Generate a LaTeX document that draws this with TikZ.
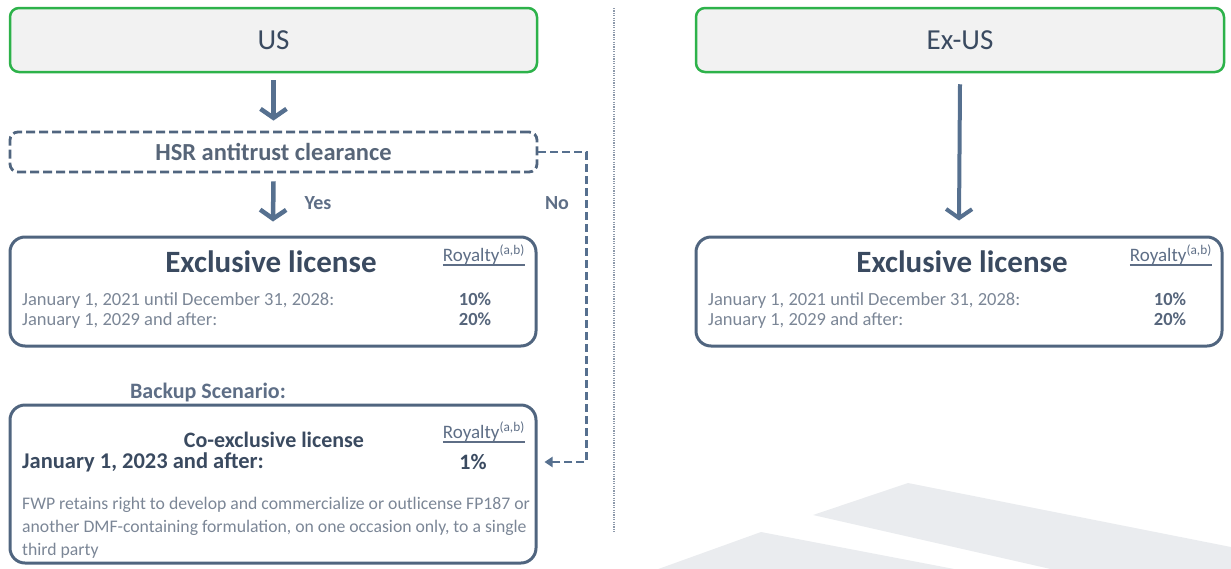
\documentclass[tikz,border=0pt]{standalone}
\usepackage{fontspec}
\setmainfont{Carlito}
\usetikzlibrary{arrows.meta,calc}
\definecolor{grn}{HTML}{2DB24A}
\definecolor{boxfill}{HTML}{F2F2F2}
\definecolor{bord}{HTML}{50657F}
\definecolor{arr}{HTML}{56708F}
\definecolor{ttl}{HTML}{3A4A60}
\definecolor{rowc}{HTML}{7B8696}
\definecolor{pct}{HTML}{56657B}
\definecolor{roy}{HTML}{5E6E86}
\definecolor{bgshape}{HTML}{EAECEF}
\definecolor{sepc}{HTML}{8D99AA}
\newcommand{\fsz}[2]{\fontsize{#1}{#2}\selectfont}
\begin{document}
\begin{tikzpicture}[x=1pt,y=-1pt,
  greenbox/.style={draw=grn, line width=2.5pt, fill=boxfill, rounded corners=9pt,
    minimum height=64pt, inner sep=0pt, font=\fsz{29}{34}, text=ttl},
  hsrbox/.style={draw=bord, line width=2.8pt, dash pattern=on 9pt off 4pt,
    rounded corners=8pt, minimum width=527pt, minimum height=40pt, inner sep=0pt,
    font=\bfseries\fsz{24.5}{28}, text=ttl!85!white},
  licbox/.style={draw=bord, line width=3pt, rounded corners=15pt,
    minimum width=526pt, minimum height=109pt, inner sep=0pt},
  bigarrow/.style={draw=arr, line width=4.5pt, -{Straight Barb[length=9pt,width=26pt]}},
  noline/.style={draw=arr, line width=2.8pt, dash pattern=on 8pt off 4pt,
    -{Triangle[length=8pt,width=10pt]}},
  sepline/.style={draw=sepc, line width=1.8pt, dash pattern=on 1.2pt off 1.2pt},
  ttltext/.style={font=\bfseries\fsz{31}{36}, text=ttl, inner sep=0pt},
  roytext/.style={font=\fsz{19}{22}, text=roy, inner sep=0pt, anchor=base east},
  rowtext/.style={font=\fsz{18.5}{22}, text=rowc, inner sep=0pt, anchor=base west},
  pcttext/.style={font=\bfseries\fsz{18.5}{22}, text=pct, inner sep=0pt, anchor=base},
  lbltext/.style={font=\bfseries\fsz{20}{24}, text=roy, inner sep=0pt},
  subtext/.style={font=\bfseries\fsz{22}{26}, text=ttl, inner sep=0pt, anchor=base},
  partext/.style={font=\fsz{17.7}{21}, text=rowc, inner sep=0pt, anchor=base west}
]
\useasboundingbox (0,0) rectangle (1231,568);
% background shapes
\begin{scope}
\clip (0,0) rectangle (1231,568);
\fill[bgshape] (813,515) -- (908,483) -- (1231,547) -- (1231,610) -- cycle;
\fill[bgshape] (600,590) -- (761,532) -- (1231,622) -- (1231,640) -- cycle;
\end{scope}
% separator
\coordinate (septop) at (614,8);
\coordinate (sepbot) at (614,532);
\draw[sepline] (septop) -- (sepbot);
% top boxes
\node[greenbox, minimum width=527pt] (us) at (273.5,40) {US};
\node[greenbox, minimum width=528pt] (exus) at (960,40) {Ex-US};
% HSR
\node[hsrbox] (hsr) at (273.5,152) {HSR antitrust clearance};
% license boxes
\node[licbox] (exL) at (273,291.5) {};
\node[licbox] (exR) at (959,291.5) {};
\node[licbox, minimum height=158pt] (coex) at (273,484) {};
% arrows
\draw[bigarrow] ([yshift=-7pt]us.south) -- ([yshift=10pt]hsr.north);
\draw[bigarrow] ([yshift=-8pt]hsr.south) -- ([yshift=14pt]exL.north);
\draw[bigarrow, line width=4pt] ([yshift=-11pt]exus.south) -- ([yshift=15pt]exR.north);
\draw[noline] (hsr.east) -- ++(48,0) |- ([xshift=7pt,yshift=22pt]coex.east);
% labels
\node[lbltext] (yes) at (318,203) {Yes};
\node[lbltext] (no) at (557,203) {No};
\node[lbltext, font=\bfseries\fsz{22}{26}] (backup) at (208,393) {Backup Scenario:};
% left exclusive license
\node[ttltext] (ttlL) at (271,262) {Exclusive license};
\node[roytext] (royL) at (525,261) {Royalty\textsuperscript{(a,b)}};
\draw[roy, line width=1.3pt] ($(royL.base west)+(0,4)$) -- ($(royL.base east)+(0,4)$);
\node[rowtext] (r1L) at (22,305) {January 1, 2021 until December 31, 2028:};
\node[rowtext] (r2L) at (22,325) {January 1, 2029 and after:};
\node[pcttext] (p1L) at (475,305) {10\%};
\node[pcttext] (p2L) at (475,325) {20\%};
% right exclusive license
\node[ttltext] (ttlR) at (962,262) {Exclusive license};
\node[roytext] (royR) at (1212,261) {Royalty\textsuperscript{(a,b)}};
\draw[roy, line width=1.3pt] ($(royR.base west)+(0,4)$) -- ($(royR.base east)+(0,4)$);
\node[rowtext] (r1R) at (708,305) {January 1, 2021 until December 31, 2028:};
\node[rowtext] (r2R) at (708,325) {January 1, 2029 and after:};
\node[pcttext] (p1R) at (1170,305) {10\%};
\node[pcttext] (p2R) at (1170,325) {20\%};
% co-exclusive license
\node[subtext] (ttlC) at (274,447) {Co-exclusive license};
\node[roytext] (royC) at (525,438) {Royalty\textsuperscript{(a,b)}};
\draw[roy, line width=1.3pt] ($(royC.base west)+(0,4)$) -- ($(royC.base east)+(0,4)$);
\node[subtext, anchor=base west, font=\bfseries\fsz{22.5}{26}] (dateC) at (22,468) {January 1, 2023 and after:};
\node[subtext] (pC) at (473,469) {1\%};
\node[partext] (l1) at (22,509) {FWP retains right to develop and commercialize or outlicense FP187 or};
\node[partext] (l2) at (22,532) {another DMF-containing formulation, on one occasion only, to a single};
\node[partext] (l3) at (22,555) {third party};
\end{tikzpicture}
\end{document}
